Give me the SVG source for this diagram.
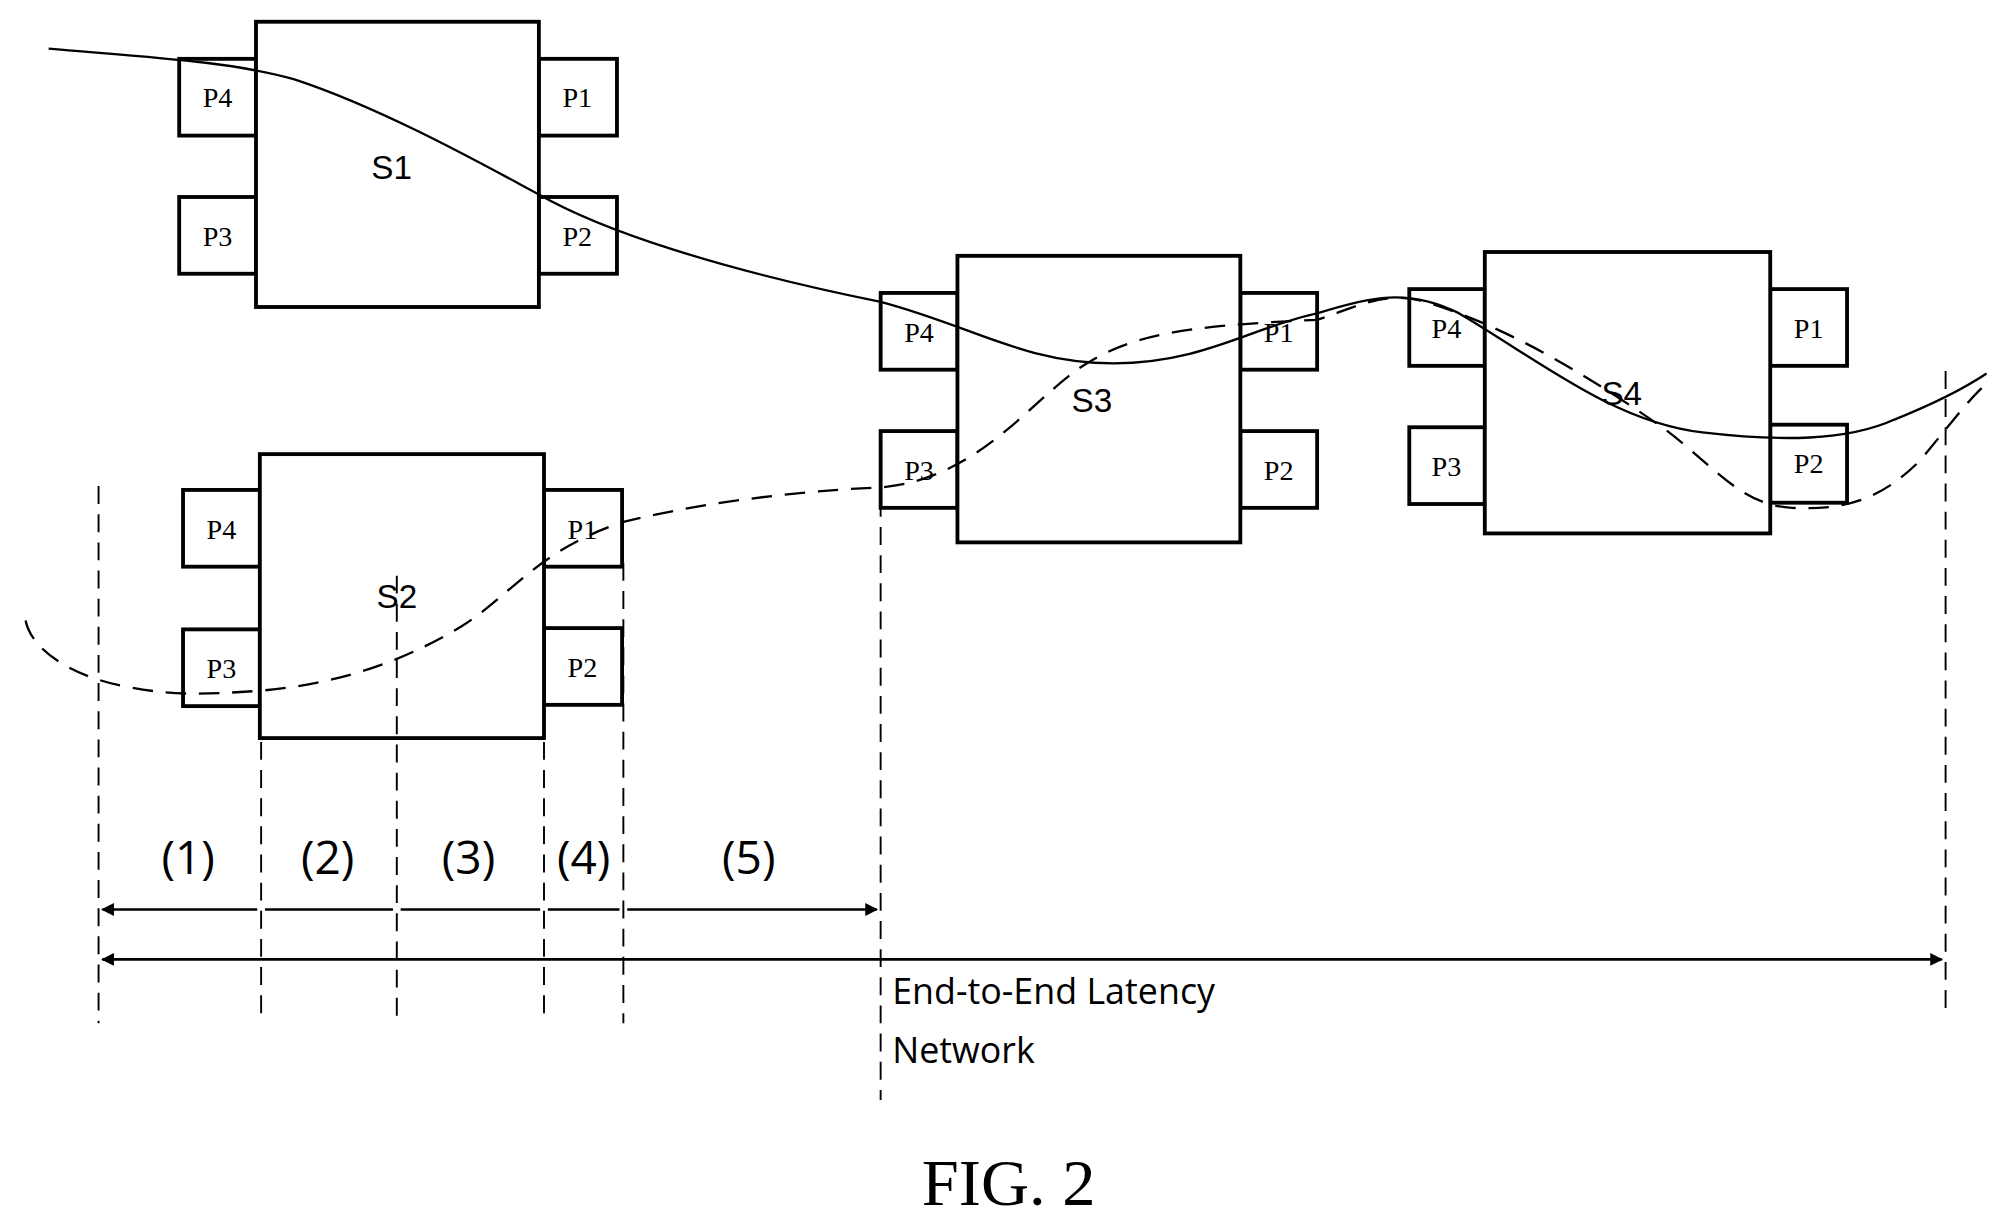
<svg xmlns="http://www.w3.org/2000/svg" width="2007" height="1228" viewBox="0 0 2007 1228">
<style>
.b{fill:#fff;stroke:#000;stroke-width:3}
.p{fill:#fff;stroke:#000;stroke-width:3}
.pt{font-family:"Liberation Serif",serif;font-size:22px;text-anchor:middle}
.st{font-family:"Liberation Sans",sans-serif;font-size:26px;text-anchor:middle}
.v{stroke:#000;stroke-width:1.5;stroke-dasharray:14 8;fill:none}
.a{stroke:#000;stroke-width:2;fill:none;marker-start:url(#h);marker-end:url(#h)}
.n{font-family:"Open Sans",sans-serif;font-size:36px;text-anchor:middle}
.t{font-family:"Open Sans",sans-serif;font-size:28px}
</style>
<defs><marker id="h" viewBox="0 0 10 10" refX="9" refY="5" markerWidth="5" markerHeight="5" orient="auto-start-reverse"><path d="M0,0L10,5L0,10z" fill="#000"/></marker></defs>
<rect width="2007" height="1228" fill="#fff"/>
<g transform="scale(1.28,1.2792)">
<g id="S1"><rect class="p" x="140" y="46" width="60" height="60"/><rect class="p" x="140" y="154" width="60" height="60"/><rect class="p" x="421" y="46" width="61" height="60"/><rect class="p" x="421" y="154" width="61" height="60"/><rect class="b" x="200" y="17" width="221" height="223"/>
<text class="pt" x="170" y="84">P4</text><text class="pt" x="170" y="192">P3</text><text class="pt" x="451" y="84">P1</text><text class="pt" x="451" y="192">P2</text><text class="st" x="306" y="140">S1</text></g>
<g id="S2"><rect class="p" x="143" y="383" width="60" height="60"/><rect class="p" x="143" y="492" width="60" height="60"/><rect class="p" x="425" y="383" width="61" height="60"/><rect class="p" x="425" y="491" width="61" height="60"/><rect class="b" x="203" y="355" width="222" height="222"/>
<text class="pt" x="173" y="421">P4</text><text class="pt" x="173" y="530">P3</text><text class="pt" x="455" y="421">P1</text><text class="pt" x="455" y="529">P2</text><text class="st" x="310" y="475">S2</text></g>
<g id="S3"><rect class="p" x="688" y="229" width="60" height="60"/><rect class="p" x="688" y="337" width="60" height="60"/><rect class="p" x="969" y="229" width="60" height="60"/><rect class="p" x="969" y="337" width="60" height="60"/><rect class="b" x="748" y="200" width="221" height="224"/>
<text class="pt" x="718" y="267">P4</text><text class="pt" x="718" y="375">P3</text><text class="pt" x="999" y="267">P1</text><text class="pt" x="999" y="375">P2</text><text class="st" x="853" y="322">S3</text></g>
<g id="S4"><rect class="p" x="1101" y="226" width="59" height="60"/><rect class="p" x="1101" y="334" width="59" height="60"/><rect class="p" x="1383" y="226" width="60" height="60"/><rect class="p" x="1383" y="332" width="60" height="61"/><rect class="b" x="1160" y="197" width="223" height="220"/>
<text class="pt" x="1130" y="264">P4</text><text class="pt" x="1130" y="372">P3</text><text class="pt" x="1413" y="264">P1</text><text class="pt" x="1413" y="370">P2</text><text class="st" x="1267" y="317">S4</text></g>
<g id="connectors">
<path fill="none" stroke="#000" stroke-width="1.8" d="M38,38 C120,45 180,48 230,62 C300,85 380,130 421,152 C470,180 560,210 688,236 C760,255 800,284 870,284 C940,284 980,255 1029,245 C1070,232 1100,225 1140,245 C1200,280 1260,330 1330,338 C1390,345 1443,345 1480,328 C1520,312 1540,300 1552,292"/>
<path fill="none" stroke="#000" stroke-width="1.8" stroke-dasharray="16 10" d="M20,485 C25,510 60,530 100,537 C140,545 170,542 203,540 C260,535 310,520 360,490 C400,465 420,430 487,408 C560,390 640,383 688,381 C760,375 800,320 840,290 C880,262 920,255 1029,250 C1060,240 1080,228 1110,235 C1180,255 1250,300 1300,335 C1340,365 1360,395 1400,397 C1443,399 1470,390 1500,360 C1525,330 1540,310 1552,300"/>
<path class="v" d="M77,380V800M204,580V800M310,450V800M425,580V800M487,440V800M688,390V860M1520,290V790"/>
<path class="a" d="M80,711H201M207,711H307M313,711H422M428,711H484M490,711H685"/>
<path class="a" d="M80,750H1517"/>
</g>
<text class="n" x="147" y="683">(1)</text><text class="n" x="256" y="683">(2)</text><text class="n" x="366" y="683">(3)</text><text class="n" x="456" y="683">(4)</text><text class="n" x="585" y="683">(5)</text>
<text class="t" x="697" y="785">End-to-End Latency</text>
<text class="t" x="697" y="831">Network</text>
<text x="788" y="942" font-family="Liberation Serif,serif" font-size="52" text-anchor="middle">FIG. 2</text>
</g>
</svg>
